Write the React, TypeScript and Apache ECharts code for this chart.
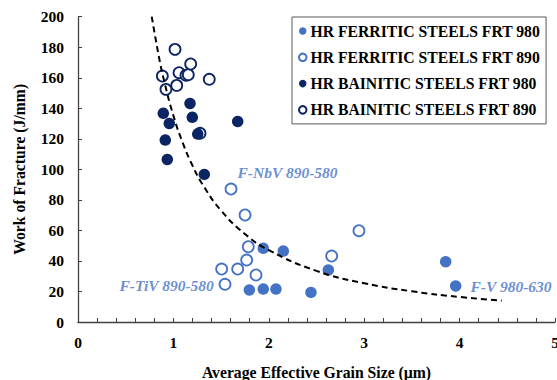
import React, { useEffect, useRef } from "react";
import * as echarts from "echarts";

// Average effective grain size (µm) vs. work of fracture (J/mm)
const ferriticFrt980: [number, number][] = [
  [1.796, 21], [1.942, 21.6], [2.075, 21.6], [1.942, 48.3], [2.152, 46.5],
  [2.442, 19.4], [2.624, 34.1], [3.854, 39.5], [3.959, 23.6],
];
const ferriticFrt890: [number, number][] = [
  [1.604, 87.1], [1.751, 70.1], [1.785, 49.3], [1.768, 40.6], [1.674, 34.7],
  [1.506, 34.7], [1.541, 24.7], [1.866, 30.8], [2.945, 59.8], [2.659, 43.2],
];
const bainiticFrt980: [number, number][] = [
  [0.894, 136.7], [0.957, 130.1], [1.174, 143.2], [1.198, 134.1], [1.255, 123.1],
  [0.915, 119.2], [0.936, 106.5], [1.674, 131.4], [1.324, 96.7],
];
const bainiticFrt890: [number, number][] = [
  [1.017, 178.6], [0.884, 161.1], [1.059, 163.3], [1.132, 161.6], [1.156, 162],
  [1.181, 169], [1.376, 159], [0.922, 152.4], [1.035, 155], [1.279, 123.6],
];
// Power-law trend line, sampled along the curve
const trendCurve: [number, number][] = [
  [0.773, 200], [0.85, 173.1], [0.9, 158.7], [1.0, 135.2], [1.1, 117], [1.2, 102.5],
  [1.3, 90.7], [1.5, 73], [1.75, 57.7], [2.0, 47.1], [2.5, 33.5], [3.0, 25.4],
  [3.5, 20.1], [4.0, 16.4], [4.441, 14],
];
// Steel grade annotations: [x, y, text]
const annotations: [number, number, string][] = [
  [1.667, 98.2, "F-NbV 890-580"],
  [0.43, 23.6, "F-TiV 890-580"],
  [4.109, 23.1, "F-V 980-630"],
];

const seriesNames = [
  "HR FERRITIC STEELS FRT 980",
  "HR FERRITIC STEELS FRT 890",
  "HR BAINITIC STEELS FRT 980",
  "HR BAINITIC STEELS FRT 890",
];

const LIGHT = "#4472C4";
const NAVY = "#0B2463";
const FONT = "'Liberation Serif', 'Times New Roman', serif";
const AXIS = "#404040";

export default function App() {
  const ref = useRef<HTMLDivElement>(null);

  useEffect(() => {
    if (!ref.current) return;
    const chart = echarts.init(ref.current, null, { renderer: "svg" });

    const filled = (name: string, color: string, data: [number, number][]) => ({
      name,
      type: "scatter",
      data,
      symbol: "circle",
      symbolSize: 11.5,
      itemStyle: { color, opacity: 1 },
      z: 3,
    });
    const open = (name: string, color: string, data: [number, number][]) => ({
      name,
      type: "scatter",
      data,
      symbol: "circle",
      symbolSize: 11,
      itemStyle: { color: "#ffffff", borderColor: color, borderWidth: 1.8, opacity: 1 },
      z: 2,
    });

    chart.setOption({
      animation: false,
      grid: { left: 78, right: 2, top: 16.7, bottom: 58, containLabel: false, outerBoundsMode: "none" },
      legend: {
        data: seriesNames,
        orient: "vertical",
        left: 292,
        top: 17,
        padding: [6, 6, 6, 6],
        itemGap: 10.3,
        itemWidth: 7.5,
        itemHeight: 7.5,
        borderColor: "#595959",
        borderWidth: 1,
        backgroundColor: "#ffffff",
        textStyle: { fontFamily: FONT, fontWeight: "bold", fontSize: 15.7, color: "#000", padding: [0, 0, 0, -1] },
      },
      xAxis: {
        type: "value",
        min: 0,
        max: 5,
        interval: 1,
        name: "Average Effective Grain Size (µm)",
        nameLocation: "middle",
        nameGap: 42,
        nameTextStyle: { fontFamily: FONT, fontWeight: "bold", fontSize: 15.7, color: "#000" },
        axisLine: { show: true, lineStyle: { color: AXIS, width: 1.3 } },
        axisTick: { show: true, inside: true, length: 4, lineStyle: { color: AXIS } },
        minorTick: { show: true, splitNumber: 5, length: 4, lineStyle: { color: AXIS } },
        splitLine: { show: false },
        axisLabel: { fontFamily: FONT, fontWeight: "bold", fontSize: 15.5, color: "#000", margin: 12 },
      },
      yAxis: {
        type: "value",
        min: 0,
        max: 200,
        interval: 20,
        name: "Work of Fracture (J/mm)",
        nameLocation: "middle",
        nameGap: 51,
        nameTextStyle: { fontFamily: FONT, fontWeight: "bold", fontSize: 15.7, color: "#000" },
        axisLine: { show: true, lineStyle: { color: AXIS, width: 1.3 } },
        axisTick: { show: true, inside: true, length: 4, lineStyle: { color: AXIS } },
        splitLine: { show: false },
        axisLabel: { fontFamily: FONT, fontWeight: "bold", fontSize: 15.5, color: "#000", margin: 14 },
      },
      series: [
        open(seriesNames[1], LIGHT, ferriticFrt890),
        filled(seriesNames[0], LIGHT, ferriticFrt980),
        open(seriesNames[3], NAVY, bainiticFrt890),
        filled(seriesNames[2], NAVY, bainiticFrt980),
        {
          name: "trend",
          type: "line",
          data: trendCurve,
          smooth: true,
          showSymbol: false,
          symbol: "none",
          lineStyle: { color: "#000", width: 2, type: [6, 4] },
          z: 4,
          silent: true,
        },
        {
          name: "annotations",
          type: "scatter",
          data: annotations.map(([x, y, t]) => ({ value: [x, y], label: { formatter: t } })),
          symbolSize: 1,
          itemStyle: { color: "rgba(0,0,0,0)" },
          silent: true,
          z: 5,
          label: {
            show: true,
            position: "right",
            distance: 0,
            fontFamily: FONT,
            fontWeight: "bold",
            fontStyle: "italic",
            fontSize: 15.5,
            color: LIGHT,
          },
        },
      ],
    });

    return () => chart.dispose();
  }, []);

  return <div ref={ref} style={{ width: 557, height: 380, position: "absolute", left: 0, top: 0 }} />;
}
